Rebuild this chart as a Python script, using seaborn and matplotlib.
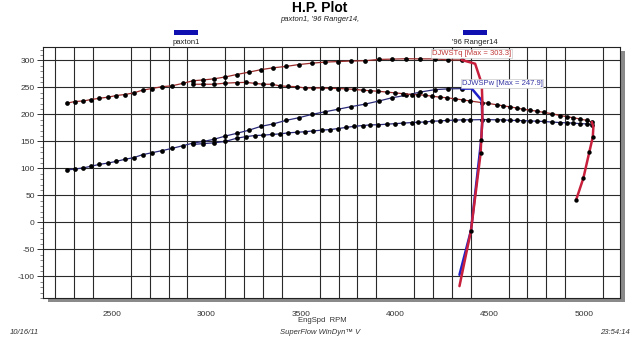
import matplotlib
matplotlib.use("Agg")
import matplotlib.pyplot as plt
from matplotlib.patches import Rectangle
import seaborn as sns
import pandas as pd
import numpy as np

# ---------------- data ----------------
rpm_a = [2263, 2304, 2348, 2387, 2433, 2479, 2521, 2569, 2615, 2662, 2710, 2765,
         2816, 2874, 2929, 2984, 3040, 3100, 3160, 3226, 3289, 3354, 3421, 3490,
         3557, 3628, 3695, 3766, 3838, 3914, 3983, 4057, 4131, 4211, 4281, 4352]
tq_a = [221, 224, 225, 227.5, 230, 232, 235, 237, 240, 245, 248, 251.5,
        253, 257.5, 262.5, 264, 266, 269.5, 274, 278.5, 283, 286.5, 289, 292.5,
        295, 297, 298, 299, 299.5, 302, 302.5, 303.3, 303, 303, 301, 301]
pw_a = [97, 99, 101, 104, 107.5, 110, 113, 117, 120, 125.5, 129, 133,
        137, 142, 147, 150, 154, 160, 165, 171, 178, 182.5, 189, 194,
        200, 205, 209.5, 214.5, 219, 225, 231, 235.5, 241.5, 246, 247.5, 247.9]

rpm_b = [2929, 2984, 3040, 3100, 3160, 3210, 3257, 3301, 3346, 3390, 3434, 3478,
         3522, 3566, 3611, 3655, 3699, 3739, 3782, 3828, 3866, 3910, 3955, 3999,
         4043, 4087, 4123, 4158, 4193, 4237, 4273, 4316, 4357, 4396, 4458, 4493,
         4537, 4572, 4608, 4643, 4679, 4714, 4750, 4785, 4829, 4873, 4908, 4943,
         4979, 5014, 5041]
tq_b = [256, 256, 256, 258, 259, 259.5, 257.6, 256, 256, 253, 252, 251.5,
        249, 249, 249, 248.5, 248, 247.5, 246.5, 245, 244, 243, 241.5, 240,
        238.5, 237, 236.5, 235.5, 234, 232, 231, 229, 227, 225, 222, 220.5,
        218, 216, 214, 212, 209.5, 208, 206, 204, 201.5, 198, 196, 194,
        191.5, 189, 186]
pw_b = [144.5, 146, 147.5, 150, 156, 159, 161, 161.6, 163, 164, 166, 167,
        168, 169.5, 171, 172, 174, 176, 178, 179.5, 180.6, 181, 182, 183,
        184, 185, 185.6, 186, 187.5, 188, 189, 189.5, 190, 190, 190.5, 190.5,
        190, 190, 189, 189, 188.5, 188, 187.5, 187, 186, 185, 184.5, 184,
        183, 182.5, 181]

# run-down segments (thick lines)
down_tq_a_rpm = [4352, 4423, 4458, 4461, 4461, 4455, 4452, 4401, 4340]
down_tq_a_val = [301, 294, 257, 226, 189, 152, 128, -15, -118]
down_pw_a_rpm = [4352, 4405, 4458, 4461, 4455, 4401, 4340]
down_pw_a_val = [247.9, 248, 226, 189, 152, -15, -97]
down_b_rpm = [5041, 5049, 5046, 5028, 4996, 4958]
down_b_val = [186, 177, 158.5, 131, 82, 42]
down_marks_rpm = [4455, 4452, 4401, 5046, 5028, 4996, 4958]
down_marks_val = [152, 128, -15, 158.5, 131, 82, 42]

x_ticks = [2500, 3000, 3500, 4000, 4500, 5000]
y_ticks = [-100, -50, 0, 50, 100, 150, 200, 250, 300]
legend_names = ["paxton1", "'96 Ranger14"]

# ---------------- figure ----------------
sns.set_theme(style="white")
plt.rcParams['font.family'] = ['Liberation Sans', 'DejaVu Sans']

W, H = 639, 338
fig = plt.figure(figsize=(W / 100, H / 100), dpi=100)
fig.patch.set_facecolor("white")

L, R, T, B = 43, 620, 47, 298
ax = fig.add_axes([L / W, 1 - B / H, (R - L) / W, (B - T) / H])
ax.set_zorder(2)
ax.set_facecolor("white")

# drop shadow of plot area
fig.patches.append(Rectangle(((L + 5) / W, 1 - (B + 4) / H), (R - L) / W, (B - T) / H,
                             transform=fig.transFigure, facecolor="#8a8a8a",
                             edgecolor="none", zorder=1))

tq_col = "#9a2b2b"
pw_col = "#2a2a78"
dot = dict(marker="o", markersize=3.4, markerfacecolor="black",
           markeredgecolor="black", markeredgewidth=0)

def draw(xv, yv, color, lw, mk=True, z=3):
    df = pd.DataFrame({"rpm": xv, "val": yv})
    kw = dot if mk else {}
    sns.lineplot(data=df, x="rpm", y="val", sort=False, estimator=None,
                 color=color, linewidth=lw, ax=ax, zorder=z, **kw)

draw(rpm_a, tq_a, tq_col, 0.9)
draw(rpm_a, pw_a, pw_col, 0.9)
draw(rpm_b, tq_b, tq_col, 0.9)
draw(rpm_b, pw_b, pw_col, 0.9)
draw(down_pw_a_rpm, down_pw_a_val, "#2020c8", 1.8, mk=False, z=4)
draw(down_tq_a_rpm, down_tq_a_val, "#c8203c", 1.8, mk=False, z=5)
draw(down_b_rpm, down_b_val, "#c8203c", 1.8, mk=False, z=5)
sns.scatterplot(x=down_marks_rpm, y=down_marks_val, color="black", s=10,
                linewidth=0, ax=ax, zorder=6)

ax.set_xlim(2135, 5190)
ax.set_ylim(-140, 325)
ax.set_xticks(x_ticks)
ax.set_xticklabels([str(v) for v in x_ticks])
ax.set_xticks(np.arange(2200, 5200, 100), minor=True)
ax.set_yticks(y_ticks)
ax.set_yticklabels([str(v) for v in y_ticks])
ax.set_yticks(np.arange(-140, 330, 10), minor=True)
ax.grid(True, which="major", axis="y", color="#2a2a2a", linewidth=0.8)
ax.grid(True, which="minor", axis="x", color="#2a2a2a", linewidth=0.8)
ax.grid(False, which="major", axis="x")
ax.tick_params(axis="x", which="both", length=0, pad=9, labelsize=6, colors="#333333")
ax.tick_params(axis="y", which="major", length=4, width=0.7, direction="out",
               left=True, pad=2, labelsize=6, colors="#333333")
ax.tick_params(axis="y", which="minor", length=2, width=0.5, direction="out", left=True,
               colors="#555555")
ax.set_xlabel("")
ax.set_ylabel("")
for s in ax.spines.values():
    s.set_color("#222222")
    s.set_linewidth(0.8)

# annotations
ax.text(4195, 313, "DJWSTq [Max = 303.3]", color="#c03838", fontsize=5.5,
        va="center", ha="left", zorder=7,
        bbox=dict(facecolor="white", edgecolor="#bbbbbb", linewidth=0.4, pad=0.6))
ax.text(4352, 257.5, "DJWSPw [Max = 247.9]", color="#3535a5", fontsize=5.5,
        va="center", ha="left", zorder=7,
        bbox=dict(facecolor="white", edgecolor="#bbbbbb", linewidth=0.4, pad=0.6))

# titles and legend
fig.text(320 / W, 1 - 7.5 / H, "H.P. Plot", ha="center", va="center",
         fontsize=10, fontweight="bold", color="black")
fig.text(320 / W, 1 - 19.5 / H, "paxton1, '96 Ranger14,", ha="center", va="center",
         fontsize=5.5, style="italic", color="#222222")
for cx, name in zip([186, 475], legend_names):
    fig.patches.append(Rectangle(((cx - 12) / W, 1 - 35 / H), 24 / W, 5 / H,
                                 transform=fig.transFigure, facecolor="#1010b0",
                                 edgecolor="none"))
    fig.text(cx / W, 1 - 42 / H, name, ha="center", va="center", fontsize=5.5,
             color="#222222")

fig.text(322 / W, 1 - 320 / H, "EngSpd  RPM", ha="center", va="center",
         fontsize=5.5, color="#333333")
fig.text(10 / W, 1 - 332 / H, "10/16/11", ha="left", va="center",
         fontsize=5.5, style="italic", color="#333333")
fig.text(320 / W, 1 - 332 / H, "SuperFlow WinDyn\u2122 V", ha="center", va="center",
         fontsize=5.5, style="italic", color="#333333")
fig.text(630 / W, 1 - 332 / H, "23:54:14", ha="right", va="center",
         fontsize=5.5, style="italic", color="#333333")

fig.savefig("out.png", dpi=100, facecolor="white")
